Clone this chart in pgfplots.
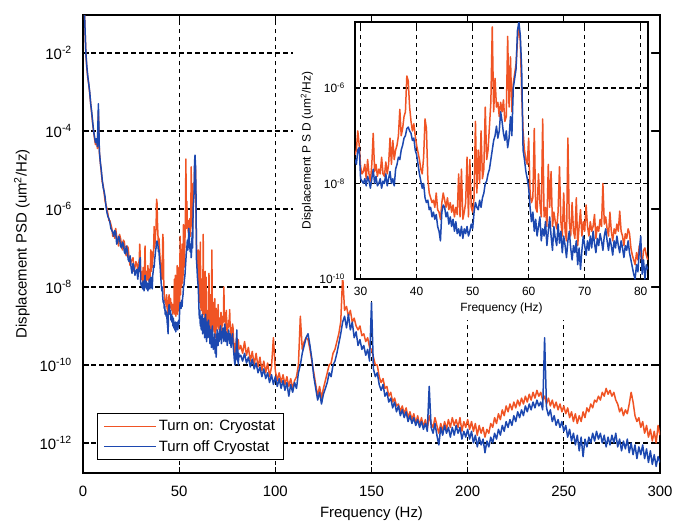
\documentclass[border=0pt]{standalone}
\usepackage{pgfplots}
\pgfplotsset{compat=1.18}
\usepackage{pgfplotstable}
\usepackage{fontspec}
\setmainfont{Liberation Sans}
\definecolor{cOn}{RGB}{240,84,36}
\definecolor{cOff}{RGB}{28,72,176}

% values are log10 of PSD
\pgfplotstableread{
x off on
0.5 -0.5 -0.5
1.0 -1.3 -1.3
1.5 -2.0 -2.05
2.0 -2.35 -2.4
2.5 -2.6 -2.65
3.0 -2.8 -2.8
3.5 -3.0 -3.05
4.0 -3.3 -3.3
4.5 -3.5 -3.55
5.0 -3.75 -3.8
5.5 -4.0 -4.0
6.0 -4.15 -4.2
6.5 -4.3 -4.35
7.0 -4.2 -4.25
7.5 -4.4 -4.45
8.0 -3.3 -3.5
8.5 -4.5 -4.55
9.0 -4.8 -4.8
9.5 -5.0 -5.05
10 -5.25 -5.3
10.5 -5.45 -5.4
11 -5.55 -5.6
11.5 -5.7 -5.8
12 -5.95 -5.9
12.5 -6.1 -6.0
13 -6.2 -6.15
13.5 -6.25 -6.3
14 -6.35 -6.3
14.5 -6.5 -6.4
15 -6.55 -6.5
15.5 -6.6 -6.7
16 -6.7 -6.6
16.5 -6.55 -6.75
17 -6.6 -6.5
17.5 -6.9 -6.7
18 -6.85 -6.8
18.5 -6.7 -6.95
19 -6.75 -6.65
19.5 -6.95 -6.75
20 -7.0 -6.9
20.5 -6.85 -7.05
21 -6.9 -6.8
21.5 -7.1 -6.85
22 -7.15 -7.1
22.5 -6.95 -7.2
23 -7.05 -6.95
23.5 -7.3 -7.0
24 -7.35 -7.3
24.5 -7.2 -7.45
25 -7.5 -7.35
25.5 -7.65 -7.3
26 -7.4 -7.25
26.5 -7.5 -7.6
27 -7.7 -7.5
27.5 -7.6 -7.35
28 -7.55 -7.4
28.5 -7.8 -7.6
29 -7.5 -7.4
}\lowtab

\pgfplotstableread{
x off on
29.00 -7.5 -7.4
29.25 -7.6 -7.3
29.50 -7.3 -6.9
29.75 -7.25 -7.2
30.00 -7.9 -7.65
30.25 -7.95 -7.8
30.50 -8.0 -7.75
30.75 -7.9 -7.6
31.00 -8.05 -7.9
31.25 -7.85 -7.5
31.50 -7.95 -7.8
31.75 -8.1 -7.95
32.00 -7.9 -7.6
32.25 -7.7 -6.95
32.50 -8.0 -7.75
32.75 -7.85 -7.6
33.00 -8.05 -7.85
33.25 -8.0 -7.7
33.50 -7.9 -7.8
33.75 -8.1 -7.45
34.00 -7.95 -7.8
34.25 -8.0 -7.85
34.50 -7.8 -7.55
34.75 -8.05 -7.8
35.00 -7.9 -7.6
35.25 -7.75 -7.05
35.50 -8.0 -7.6
35.75 -7.9 -7.1
36.00 -8.05 -7.5
36.25 -7.7 -7.3
36.50 -7.6 -7.2
36.75 -7.45 -7.0
37.00 -7.5 -6.45
37.25 -7.3 -7.0
37.50 -7.2 -6.85
37.75 -7.05 -6.6
38.00 -7.0 -6.5
38.25 -6.85 -5.75
38.50 -6.82 -5.85
38.75 -6.9 -6.4
39.00 -6.95 -6.7
39.25 -7.1 -6.9
39.50 -7.05 -6.75
39.75 -7.3 -7.0
40.00 -7.4 -7.2
40.25 -7.6 -7.35
40.50 -7.8 -7.5
40.75 -7.95 -7.7
41.00 -8.1 -7.8
41.25 -8.0 -7.45
41.50 -8.3 -6.65
41.75 -8.4 -6.85
42.00 -8.35 -7.9
42.25 -8.55 -8.2
42.50 -8.5 -8.3
42.75 -8.7 -8.4
43.00 -8.6 -8.35
43.25 -8.75 -8.5
43.50 -8.65 -8.2
43.75 -8.9 -8.55
44.00 -9.0 -8.6
44.25 -9.2 -8.75
44.50 -8.6 -8.4
44.75 -8.45 -8.2
45.00 -8.5 -8.35
45.25 -8.7 -8.5
45.50 -8.6 -8.3
45.75 -8.85 -8.55
46.00 -8.7 -8.4
46.25 -8.9 -8.6
46.50 -8.75 -8.45
46.75 -9.0 -8.7
47.00 -8.8 -8.5
47.25 -9.05 -8.65
47.50 -8.95 -7.8
47.75 -9.1 -8.7
48.00 -8.9 -7.7
48.25 -9.15 -8.75
48.50 -8.95 -8.6
48.75 -9.05 -8.4
49.00 -8.9 -7.45
49.25 -9.1 -8.7
49.50 -9.0 -7.5
49.75 -8.85 -8.5
50.00 -8.95 -8.6
50.25 -8.6 -8.3
50.50 -8.4 -6.7
50.75 -8.5 -8.2
51.00 -8.55 -7.3
51.25 -8.35 -8.0
51.50 -8.5 -6.9
51.75 -8.3 -7.9
52.00 -8.2 -7.7
52.25 -8.0 -6.4
52.50 -7.95 -7.5
52.75 -7.8 -7.3
53.00 -7.7 -6.8
53.25 -7.5 -6.3
53.50 -7.3 -4.72
53.75 -7.1 -6.5
54.00 -7.0 -5.8
54.25 -6.8 -6.4
54.50 -7.05 -6.3
54.75 -6.9 -6.6
55.00 -6.5 -6.3
55.25 -6.7 -6.5
55.50 -6.95 -6.25
55.75 -7.1 -6.7
56.00 -6.9 -6.6
56.25 -7.25 -4.92
56.50 -7.05 -6.4
56.75 -6.6 -5.35
57.00 -7.0 -6.5
57.25 -6.0 -5.9
57.50 -5.8 -5.7
57.75 -5.6 -5.5
58.00 -4.8 -5.0
58.25 -4.62 -4.75
58.50 -4.9 -5.0
58.75 -5.6 -6.1
59.00 -7.3 -6.9
59.25 -7.5 -7.3
59.50 -7.75 -7.5
59.75 -7.9 -7.6
60.00 -8.1 -7.05
60.25 -8.5 -8.2
60.50 -8.8 -8.4
60.75 -8.6 -8.3
61.00 -9.0 -6.85
61.25 -8.75 -8.5
61.50 -9.1 -8.6
61.75 -8.9 -7.8
62.00 -8.7 -8.4
62.25 -9.2 -8.7
62.50 -8.95 -6.65
62.75 -9.1 -8.7
63.00 -8.8 -8.5
63.25 -9.3 -8.9
63.50 -9.0 -7.6
63.75 -8.7 -8.5
64.00 -9.1 -7.75
64.25 -9.4 -8.9
64.50 -8.9 -8.6
64.75 -9.15 -8.8
65.00 -9.3 -8.95
65.25 -8.85 -8.6
65.50 -9.25 -7.65
65.75 -9.0 -8.8
66.00 -9.45 -9.1
66.25 -9.1 -8.2
66.50 -9.3 -9.0
66.75 -9.55 -9.2
67.00 -9.2 -7.05
67.25 -9.0 -8.8
67.50 -9.35 -9.1
67.75 -9.6 -8.4
68.00 -9.3 -9.0
68.25 -9.45 -9.15
68.50 -9.2 -8.3
68.75 -9.7 -9.3
69.00 -9.35 -8.9
69.25 -9.8 -8.55
69.50 -9.4 -9.1
69.75 -9.1 -8.8
70.00 -9.3 -9.0
70.25 -9.5 -8.45
70.50 -9.2 -8.9
70.75 -9.4 -9.1
71.00 -9.1 -8.8
71.25 -9.35 -9.0
71.50 -9.0 -8.9
71.75 -9.25 -8.65
72.00 -9.45 -9.15
72.25 -9.15 -8.9
72.50 -9.3 -9.0
72.75 -9.05 -8.75
73.00 -9.2 -8.9
73.25 -9.4 -8.0
73.50 -9.1 -8.85
73.75 -8.95 -8.7
74.00 -9.2 -8.95
74.25 -9.4 -9.1
74.50 -9.15 -8.6
74.75 -9.3 -9.0
75.00 -9.5 -9.2
75.25 -9.2 -8.95
75.50 -9.35 -9.05
75.75 -9.1 -8.85
76.00 -9.3 -9.0
76.25 -9.45 -8.58
76.50 -9.2 -9.0
76.75 -9.35 -9.1
77.00 -9.55 -9.3
77.25 -9.3 -9.05
77.50 -9.4 -9.15
77.75 -9.2 -8.95
78.00 -9.45 -9.05
78.25 -9.6 -9.35
78.50 -9.75 -9.5
78.75 -9.9 -9.6
79.00 -10.0 -9.7
79.25 -9.7 -9.45
79.50 -9.85 -9.6
79.75 -9.4 -9.3
80.00 -9.1 -9.5
80.25 -9.9 -9.7
80.50 -9.6 -9.4
80.75 -10.0 -9.35
81.00 -9.7 -9.5
81.25 -9.8 -9.6
}\midtab

\pgfplotstableread{
x off on
81.25 -9.8 -9.6
82 -9.75 -9.5
83 -9.9 -9.7
84 -9.7 -9.4
85 -9.95 -9.75
86 -9.8 -9.55
87 -10.05 -9.9
88 -9.85 -9.65
89 -10.1 -10.0
90 -9.95 -9.7
91 -10.2 -10.05
92 -10.05 -9.8
93 -10.3 -10.15
94 -10.1 -9.9
95 -10.35 -10.2
96 -10.2 -9.95
97 -10.45 -10.3
98 -10.25 -10.05
99 -10.5 -9.3
100 -10.3 -10.15
101 -10.55 -10.4
102 -10.35 -10.2
103 -10.6 -10.45
104 -10.4 -10.25
105 -10.65 -10.5
106 -10.45 -10.3
107 -10.8 -10.55
108 -10.5 -10.35
109 -10.7 -10.6
110 -10.45 -10.4
111 -10.6 -10.3
112 -10.2 -10.0
113 -10.0 -8.75
114 -9.7 -9.6
115 -9.5 -9.4
116 -9.3 -9.3
117 -9.2 -9.35
118 -9.5 -9.6
119 -9.85 -9.9
120 -10.3 -10.2
121 -10.6 -10.5
122 -10.9 -10.8
123 -10.7 -10.55
124 -11.0 -10.85
125 -10.75 -10.6
126 -10.6 -10.4
127 -10.45 -10.2
128 -10.2 -10.0
129 -10.3 -9.95
130 -10.0 -9.7
131 -9.9 -9.6
132 -9.7 -9.4
133 -9.45 -9.2
134 -9.2 -8.9
135 -8.9 -7.7
136 -8.75 -8.6
137 -9.05 -8.5
138 -8.7 -8.75
139 -9.1 -8.6
140 -8.9 -8.9
141 -9.3 -8.8
142 -9.15 -9.0
143 -9.5 -9.1
144 -9.35 -9.0
145 -9.6 -9.25
146 -9.5 -9.2
147 -9.75 -9.4
148 -9.6 -9.3
149 -9.9 -9.55
150 -8.4 -9.6
151 -10.1 -9.8
152 -10.3 -10.0
153 -10.2 -10.0
154 -10.5 -10.3
155 -10.65 -10.45
156 -10.5 -10.35
157 -10.8 -10.6
158 -10.7 -10.55
159 -10.95 -10.8
160 -10.85 -10.7
161 -11.1 -10.95
162 -10.95 -10.85
163 -11.2 -11.05
164 -11.05 -11.0
165 -11.3 -11.2
166 -11.15 -11.05
167 -11.35 -11.25
168 -11.2 -11.1
169 -11.45 -11.35
170 -11.3 -11.2
171 -11.5 -11.4
172 -11.35 -11.25
173 -11.55 -11.5
174 -11.4 -11.3
175 -11.6 -11.55
176 -11.45 -11.35
177 -11.65 -11.6
178 -11.5 -11.4
179 -11.7 -11.65
180 -10.55 -11.3
181 -11.6 -11.5
182 -11.75 -11.6
183 -11.5 -11.35
184 -11.8 -11.55
185 -12.05 -11.75
186 -11.6 -11.5
187 -11.8 -11.7
188 -11.55 -11.45
189 -11.75 -11.65
190 -11.6 -11.4
191 -11.85 -11.6
192 -11.6 -11.35
193 -11.8 -11.55
194 -11.55 -11.4
195 -11.75 -11.6
196 -11.6 -11.35
197 -11.9 -11.7
198 -11.7 -11.45
199 -11.85 -11.6
200 -11.65 -11.4
201 -11.9 -11.65
202 -11.7 -11.45
203 -12.0 -11.7
204 -11.8 -11.5
205 -12.1 -11.8
206 -11.85 -11.55
207 -12.05 -11.75
208 -11.9 -11.6
209 -12.25 -11.85
210 -11.95 -11.65
211 -12.1 -11.75
212 -11.85 -11.5
213 -12.0 -11.6
214 -11.75 -11.35
215 -11.9 -11.5
216 -11.65 -11.25
217 -11.8 -11.4
218 -11.55 -11.15
219 -11.7 -11.3
220 -11.45 -11.05
221 -11.6 -11.2
222 -11.4 -11.0
223 -11.55 -11.15
224 -11.3 -10.95
225 -11.45 -11.1
226 -11.2 -10.9
227 -11.35 -11.05
228 -11.15 -10.85
229 -11.3 -11.0
230 -11.05 -10.8
231 -11.2 -10.95
232 -11.0 -10.75
233 -11.15 -10.9
234 -10.95 -10.7
235 -11.1 -10.85
236 -10.9 -10.65
237 -11.05 -10.8
238 -10.95 -10.7
239 -11.15 -10.9
240 -9.3 -10.8
241 -11.1 -11.0
242 -11.3 -10.85
243 -11.15 -11.05
244 -11.45 -10.9
245 -11.3 -11.1
246 -11.55 -10.95
247 -11.4 -11.15
248 -11.6 -11.0
249 -11.45 -11.2
250 -11.7 -11.05
251 -11.55 -11.25
252 -11.85 -11.1
253 -11.65 -11.35
254 -11.95 -11.2
255 -11.75 -11.45
256 -12.05 -11.25
257 -11.8 -11.5
258 -12.2 -11.3
259 -11.85 -11.45
260 -12.35 -11.2
261 -11.9 -11.35
262 -12.1 -11.1
263 -11.85 -11.2
264 -12.0 -11.0
265 -11.75 -11.1
266 -11.95 -10.9
267 -11.7 -10.95
268 -11.9 -10.8
269 -11.75 -10.9
270 -12.0 -10.7
271 -11.8 -10.8
272 -12.1 -10.6
273 -11.85 -10.75
274 -12.05 -10.65
275 -11.8 -10.8
276 -12.0 -10.7
277 -11.75 -10.9
278 -12.1 -11.0
279 -11.9 -11.2
280 -12.2 -11.1
281 -11.95 -11.3
282 -12.15 -11.15
283 -11.9 -11.25
284 -12.25 -11.0
285 -12.0 -10.7
286 -12.3 -10.95
287 -12.05 -11.3
288 -12.4 -11.45
289 -12.1 -11.35
290 -12.3 -11.6
291 -12.05 -11.45
292 -12.4 -11.75
293 -12.15 -11.55
294 -12.5 -11.85
295 -12.2 -11.65
296 -12.55 -11.95
297 -12.3 -11.7
298 -12.6 -12.0
299 -12.35 -11.55
300 -12.5 -11.8
}\hightab

\pgfplotsset{
  gridstyle/.style={black, line width=1.2bp, dash pattern=on 4.5bp off 3.5bp},
  onstyle/.style={cOn, line width=1.5bp, line join=round},
  offstyle/.style={cOff, line width=1.5bp, line join=round},
}

\begin{document}
\begin{tikzpicture}
\useasboundingbox (0,0) rectangle (674bp,522bp);
\begin{axis}[
  scale only axis, width=577bp, height=458bp,
  at={(83bp,49bp)}, anchor=south west,
  xmin=0, xmax=300, ymode=log, ymin=1.7e-13, ymax=0.094,
  xtick={0,50,100,150,200,250,300},
  xticklabels={0,50,100,150,200,250,300},
  ytick={1e-12,1e-10,1e-8,1e-6,1e-4,1e-2},
  yticklabels={10\textsuperscript{-12},10\textsuperscript{-10},10\textsuperscript{-8},10\textsuperscript{-6},10\textsuperscript{-4},10\textsuperscript{-2}},
  yminorticks=false,
  grid=major,
  major grid style={gridstyle},
  axis line style={black, line width=1.1bp},
  major tick style={black, line width=1.1bp},
  major tick length=6bp,
  tick label style={font=\fontsize{15}{15}\selectfont},
  xticklabel style={inner sep=0pt, yshift=-13bp},
  yticklabel style={inner sep=0pt, xshift=-11bp},
  label style={font=\fontsize{15}{15}\selectfont},
  xlabel={Frequency (Hz)},
  xlabel style={at={(axis description cs:0.5,-0.072)}, anchor=north, inner sep=0pt},
  ylabel={Displacement PSD (um\textsuperscript{2}/Hz)},
  ylabel style={at={(axis description cs:-0.106,0.5)}, anchor=center, inner sep=0pt},
  legend style={at={(0.024,0.028)}, anchor=south west, draw=black, line width=1.1bp,
    font=\fontsize{15}{15}\selectfont, row sep=4bp, inner xsep=6bp, inner ysep=5bp},
  legend cell align=left,
  legend image code/.code={\draw[#1, line width=1.4bp] (0bp,0bp) -- (52bp,0bp);},
  legend entries={Turn on: Cryostat, Turn off Cryostat},
]
\addplot[onstyle] table[x=x, y expr=10^(\thisrow{on})] {\lowtab};
\addplot[offstyle] table[x=x, y expr=10^(\thisrow{off})] {\lowtab};
\addplot[onstyle, forget plot] table[x=x, y expr=10^(\thisrow{on})] {\midtab};
\addplot[offstyle, forget plot] table[x=x, y expr=10^(\thisrow{off})] {\midtab};
\addplot[onstyle, forget plot] table[x=x, y expr=10^(\thisrow{on})] {\hightab};
\addplot[offstyle, forget plot] table[x=x, y expr=10^(\thisrow{off})] {\hightab};
\end{axis}

\fill[white] (293bp,500bp) -- (651bp,500bp) -- (651bp,202bp) -- (380bp,202bp)
  -- (380bp,222bp) -- (348bp,222bp) -- (348bp,242bp) -- (293bp,242bp) -- cycle;

\begin{axis}[
  scale only axis, width=293bp, height=257bp,
  at={(355bp,243bp)}, anchor=south west,
  xmin=29, xmax=81.3, ymode=log, ymin=1e-10, ymax=2.4e-5,
  xtick={30,40,50,60,70,80},
  xticklabels={30,40,50,60,70,80},
  ytick={1e-10,1e-8,1e-6},
  yticklabels={10\textsuperscript{-10},10\textsuperscript{-8},10\textsuperscript{-6}},
  yminorticks=false,
  grid=major,
  major grid style={gridstyle},
  axis line style={black, line width=1.1bp},
  major tick style={black, line width=1.1bp},
  major tick length=5bp,
  tick label style={font=\fontsize{12}{12}\selectfont},
  xticklabel style={inner sep=0pt, yshift=-8bp},
  yticklabel style={inner sep=0pt, xshift=-10bp},
  label style={font=\fontsize{12}{12}\selectfont},
  xlabel={Frequency (Hz)},
  xlabel style={at={(axis description cs:0.5,-0.093)}, anchor=north, inner sep=0pt},
  ylabel={Displacement P S D (um\textsuperscript{2}/Hz)},
  ylabel style={at={(axis description cs:-0.164,0.5)}, anchor=center, inner sep=0pt},
]
\addplot[onstyle] table[x=x, y expr=10^(\thisrow{on})] {\midtab};
\addplot[offstyle] table[x=x, y expr=10^(\thisrow{off})] {\midtab};
\end{axis}
\end{tikzpicture}
\end{document}
